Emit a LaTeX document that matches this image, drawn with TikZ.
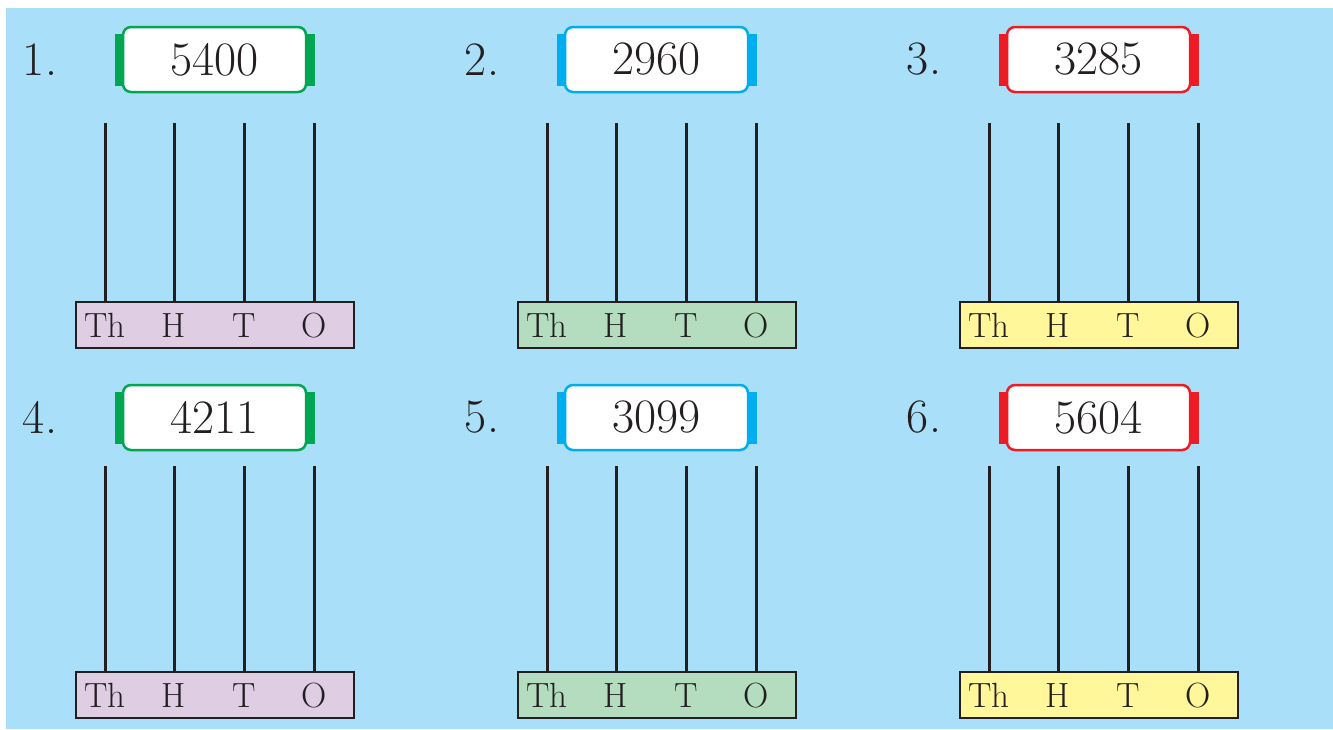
\documentclass[tikz,border=0pt]{standalone}
\definecolor{bg}{RGB}{170,223,249}
\definecolor{cgreen}{RGB}{0,166,81}
\definecolor{cblue}{RGB}{0,174,239}
\definecolor{cred}{RGB}{237,28,36}
\definecolor{bpurple}{RGB}{223,205,228}
\definecolor{bgreen}{RGB}{180,221,192}
\definecolor{byellow}{RGB}{255,247,153}
\definecolor{ink}{RGB}{35,31,32}
\begin{document}
\begin{tikzpicture}[x=1pt,y=-1pt,
  numlabel/.style={text=ink,font=\fontsize{48}{52}\selectfont,inner sep=0pt},
  numbox/.style={fill=white,line width=2.5pt,rounded corners=8pt,minimum width=183pt,minimum height=65pt,inner sep=0pt,text=ink,font=\fontsize{48}{52}\selectfont},
  barbox/.style={draw=ink,line width=2.5pt,minimum width=278pt,minimum height=46pt,inner sep=0pt},
  rod/.style={draw=ink,line width=3pt},
  place/.style={text=ink,inner sep=0pt,font=\fontsize{35}{40}\selectfont}]
\useasboundingbox (0,0) rectangle (1333,729);
\fill[bg] (6,8) rectangle (1333,729);
\foreach \i/\num/\cc/\bc/\dx/\by/\lt/\bt in {1/5400/cgreen/bpurple/0/59.5/123/302, 2/2960/cblue/bgreen/442/59.5/123/302, 3/3285/cred/byellow/884/59.5/123/302, 4/4211/cgreen/bpurple/0/417.5/466/672, 5/3099/cblue/bgreen/442/417.5/466/672, 6/5604/cred/byellow/884/417.5/466/672}{
  \node[numlabel] (lab\i) at (40+\dx,\by) {\i.};
  \fill[\cc] (115+\dx,\by-26) rectangle (315+\dx,\by+26);
  \node[numbox,draw=\cc] (box\i) at (214.5+\dx,\by) {\num};
  \node[barbox,fill=\bc] (bar\i) at (215+\dx,\bt+23) {};
  \foreach \k/\t/\xx in {a/Th/105, b/H/174, c/T/244, d/O/314}{
    \coordinate (top\i\k) at (\xx+\dx,\lt);
    \draw[rod] (top\i\k) -- (top\i\k |- bar\i.north);
    \node[place,anchor=base] (lbl\i\k) at (\xx+\dx,\bt+35) {\t};
  }
}
\end{tikzpicture}
\end{document}
